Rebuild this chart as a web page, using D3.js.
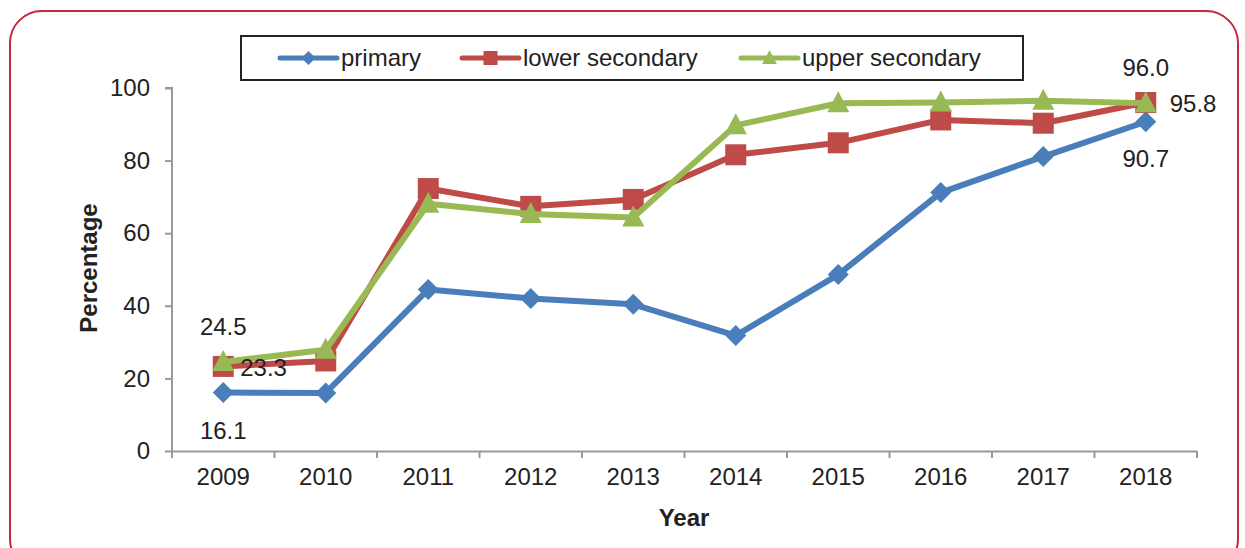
<!DOCTYPE html>
<html>
<head>
<meta charset="utf-8">
<script src="https://cdn.jsdelivr.net/npm/d3@7"></script>
<style>
  body { margin: 0; background: #fff; }
  svg { display: block; font-family: "Liberation Sans", Arial, sans-serif; }
</style>
</head>
<body>
<svg id="chart"></svg>
<script>
const years = ['2009', '2010', '2011', '2012', '2013', '2014', '2015', '2016', '2017', '2018'];
const primary = [16.1, 16.0, 44.5, 42.0, 40.4, 31.8, 48.6, 71.2, 81.1, 90.7];
const lowerSecondary = [23.3, 24.8, 72.3, 67.4, 69.3, 81.6, 84.9, 91.2, 90.3, 96.0];
const upperSecondary = [24.5, 27.9, 68.1, 65.3, 64.3, 89.7, 95.8, 96.0, 96.5, 95.8];
const yTicks = [0, 20, 40, 60, 80, 100];

const series = [
  { name: 'primary', values: primary, color: '#4a7ebb', shape: 'diamond' },
  { name: 'lower secondary', values: lowerSecondary, color: '#be4b48', shape: 'square' },
  { name: 'upper secondary', values: upperSecondary, color: '#98b954', shape: 'triangle' }
];

const width = 1245, height = 548;
const svg = d3.select('#chart').attr('width', width).attr('height', height);

// red rounded frame
svg.append('rect')
  .attr('x', 10).attr('y', 11)
  .attr('width', 1228).attr('height', 560)
  .attr('rx', 32).attr('ry', 32)
  .attr('fill', 'none')
  .attr('stroke', '#c8283c')
  .attr('stroke-width', 2);

const x = d3.scaleBand().domain(years).range([172, 1197]);
const y = d3.scaleLinear().domain([0, 100]).range([451, 88]);

const axisColor = '#999';
const fs = '24px';

const yAxis = svg.append('g')
  .attr('transform', 'translate(172,0)')
  .call(d3.axisLeft(y).tickValues(yTicks).tickSize(7).tickPadding(15));
yAxis.select('.domain').attr('stroke', axisColor).attr('stroke-width', 2).attr('d', 'M-7,88H0V451');
yAxis.selectAll('.tick line').attr('stroke', axisColor).attr('stroke-width', 2);
yAxis.selectAll('.tick text').attr('fill', '#222').style('font-size', fs);

const xAxis = svg.append('g')
  .attr('transform', 'translate(0,451)')
  .call(d3.axisBottom(x).tickSize(0).tickPadding(17));
xAxis.select('.domain').attr('stroke', axisColor).attr('stroke-width', 2);
xAxis.selectAll('.tick text').attr('fill', '#222').style('font-size', fs);
// tick marks on band boundaries
xAxis.selectAll('.bound')
  .data(years.concat(['end']))
  .enter().append('line')
  .attr('x1', (d, i) => 172 + i * x.step())
  .attr('x2', (d, i) => 172 + i * x.step())
  .attr('y1', 0).attr('y2', 7)
  .attr('stroke', axisColor).attr('stroke-width', 2);

// axis titles
svg.append('text')
  .attr('transform', 'translate(97,268) rotate(-90)')
  .attr('text-anchor', 'middle')
  .style('font-size', fs).style('font-weight', 'bold')
  .attr('fill', '#222')
  .text('Percentage');

svg.append('text')
  .attr('x', 684).attr('y', 526)
  .attr('text-anchor', 'middle')
  .style('font-size', fs).style('font-weight', 'bold')
  .attr('fill', '#222')
  .text('Year');

const cx = d => x(d) + x.bandwidth() / 2;

function marker(g, shape, color, px, py, s) {
  if (shape === 'diamond') {
    g.append('path')
      .attr('d', `M${px},${py - s}L${px + s},${py}L${px},${py + s}L${px - s},${py}Z`)
      .attr('fill', color);
  } else if (shape === 'square') {
    g.append('rect')
      .attr('x', px - s).attr('y', py - s)
      .attr('width', 2 * s).attr('height', 2 * s)
      .attr('fill', color);
  } else {
    g.append('path')
      .attr('d', `M${px},${py - s * 1.15}L${px + s * 1.05},${py + s * 0.85}L${px - s * 1.05},${py + s * 0.85}Z`)
      .attr('fill', color);
  }
}

const line = d3.line()
  .x((d, i) => cx(years[i]))
  .y(d => y(d));

series.forEach(s => {
  const g = svg.append('g');
  g.append('path')
    .datum(s.values)
    .attr('d', line)
    .attr('fill', 'none')
    .attr('stroke', s.color)
    .attr('stroke-width', 6)
    .attr('stroke-linejoin', 'round');
  s.values.forEach((v, i) => marker(g, s.shape, s.color, cx(years[i]), y(v), 10.5));
});

// data labels on first and last year
const labels = [
  { text: upperSecondary[0].toFixed(1), x: cx(years[0]), y: y(upperSecondary[0]) - 27, anchor: 'middle' },
  { text: lowerSecondary[0].toFixed(1), x: cx(years[0]) + 17, y: y(lowerSecondary[0]) + 10, anchor: 'start' },
  { text: primary[0].toFixed(1), x: cx(years[0]), y: y(primary[0]) + 46, anchor: 'middle' },
  { text: lowerSecondary[9].toFixed(1), x: cx(years[9]), y: y(lowerSecondary[9]) - 27, anchor: 'middle' },
  { text: upperSecondary[9].toFixed(1), x: cx(years[9]) + 24, y: y(upperSecondary[9]) + 9, anchor: 'start' },
  { text: primary[9].toFixed(1), x: cx(years[9]), y: y(primary[9]) + 45, anchor: 'middle' }
];
svg.append('g').selectAll('text')
  .data(labels)
  .enter().append('text')
  .attr('x', d => d.x).attr('y', d => d.y)
  .attr('text-anchor', d => d.anchor)
  .attr('fill', '#222')
  .style('font-size', fs)
  .text(d => d.text);

// legend
const legend = svg.append('g');
legend.append('rect')
  .attr('x', 241).attr('y', 36)
  .attr('width', 782).attr('height', 44)
  .attr('fill', '#fff')
  .attr('stroke', '#222')
  .attr('stroke-width', 2);

const legendX = [280, 462, 741];
series.forEach((s, i) => {
  const lx = legendX[i];
  legend.append('line')
    .attr('x1', lx).attr('x2', lx + 57)
    .attr('y1', 58).attr('y2', 58)
    .attr('stroke', s.color).attr('stroke-width', 5)
    .attr('stroke-linecap', 'round');
  marker(legend, s.shape, s.color, lx + 28.5, 58, 7);
  legend.append('text')
    .attr('x', lx + 61).attr('y', 66)
    .attr('fill', '#222')
    .style('font-size', fs)
    .text(s.name);
});
</script>
</body>
</html>
